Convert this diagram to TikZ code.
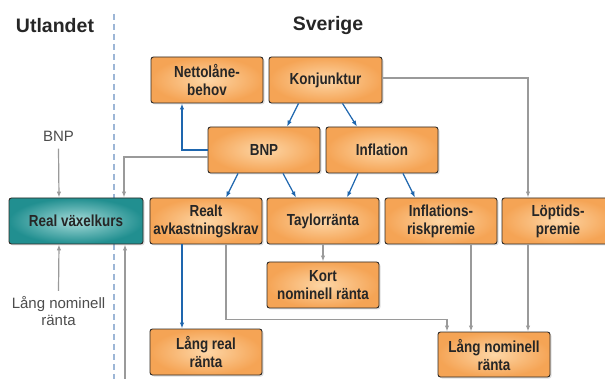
\documentclass[tikz,border=0pt]{standalone}
\usepackage{fontspec}
\setmainfont{Liberation Sans}
\newfontfamily\bx[FakeStretch=0.84]{Liberation Sans}
\usetikzlibrary{arrows.meta,shadows,calc}
\definecolor{orlight}{HTML}{FDD6A6}
\definecolor{ordark}{HTML}{F5A455}
\definecolor{tllight}{HTML}{A6DBD9}
\definecolor{tldark}{HTML}{218F90}
\definecolor{edge}{HTML}{2E2A26}
\definecolor{txt}{HTML}{262626}
\definecolor{bline}{HTML}{1E66AE}
\definecolor{gline}{HTML}{9A9A9A}
\definecolor{dashcol}{HTML}{9DB6D6}
\tikzset{
  box/.style={draw=edge, line width=0.9pt, rounded corners=2.5pt, minimum width=112pt, minimum height=46pt,
    inner color=orlight, outer color=ordark, align=center, text=txt,
    font=\bx\bfseries\fontsize{16}{18}\selectfont,
    drop shadow={shadow xshift=1.5pt, shadow yshift=-1.5pt, opacity=0.25}},
  tealbox/.style={box, inner color=tllight, outer color=tldark, minimum width=134pt},
  bl/.style={draw=bline, line width=1.2pt, -{Latex[length=6pt,width=4.5pt]}},
  gl/.style={draw=gline, line width=1.2pt, -{Latex[length=6pt,width=4.5pt]}},
  head/.style={font=\bfseries\fontsize{19.5}{22}\selectfont, text=txt},
  lab/.style={font=\fontsize{15}{17}\selectfont, text=black!70, align=center}
}
\begin{document}
\begin{tikzpicture}[x=1pt,y=-1pt]
\useasboundingbox (0,0) rectangle (605,379);
\begin{scope}
\clip (0,0) rectangle (605,379);
% dashed divider
\coordinate (dtop) at (114,14);
\coordinate (dbot) at (114,379);
\draw[draw=dashcol, line width=1.3pt, dash pattern=on 6pt off 4pt] (dtop) -- (dbot);

\node[head] (utl) at (55,26) {Utlandet};
\node[head] (sve) at (328,26) {Sverige};

\node[box] (nett) at (207,80) {Nettolåne-\\behov};
\node[box, minimum width=113pt] (konj) at (325.5,80) {Konjunktur};
\node[box] (bnp) at (264,150) {BNP};
\node[box] (infl) at (382,150) {Inflation};
\node[tealbox] (rvk) at (76,221) {Real växelkurs};
\node[box] (realt) at (206,221) {Realt\\avkastningskrav};
\node[box] (tay) at (323,221) {Taylorränta};
\node[box] (irp) at (441,221) {Inflations-\\riskpremie};
\node[box] (lopt) at (558,221) {Löptids-\\premie};
\node[box] (kort) at (323,285) {Kort\\nominell ränta};
\node[box] (lrr) at (206,352) {Lång real\\ränta};
\node[box, minimum height=45pt] (lnr) at (494,354.5) {Lång nominell\\ränta};

\node[lab] (bnplab) at (58.5,136) {BNP};
\node[lab] (lnlab) at (58.5,311) {Lång nominell\\ränta};
\coordinate (bot) at (125,379);

% connectors
\draw[bl] (bnp.west) -| ([xshift=-25pt]nett.south);
\draw[gl] ([yshift=-7pt]bnp.west) -| ([xshift=48pt]rvk.north);
\draw[bl] ([xshift=-27pt]konj.south) -- ([xshift=23pt]bnp.north);
\draw[bl] ([xshift=17pt]konj.south) -- ([xshift=-25pt]infl.north);
\draw[gl] ([yshift=2pt]konj.east) -| ([xshift=-30pt]lopt.north);
\draw[bl] ([xshift=-26pt]bnp.south) -- ([xshift=20pt]realt.north);
\draw[bl] ([xshift=19pt]bnp.south) -- ([xshift=-27pt]tay.north);
\draw[bl] ([xshift=-24pt]infl.south) -- ([xshift=24pt]tay.north);
\draw[bl] ([xshift=21pt]infl.south) -- ([xshift=-26pt]irp.north);
\draw[bl] ([xshift=-24pt]realt.south) -- ([xshift=-24pt]lrr.north);
\draw[gl] ([xshift=20pt]realt.south) -- ++(0,75) -| ([xshift=-47pt]lnr.north);
\draw[gl] (tay.south) -- (kort.north);
\draw[gl] ([xshift=30pt]irp.south) -- ([xshift=-23pt]lnr.north);
\draw[gl] ([xshift=-30pt]lopt.south) -- ([xshift=34pt]lnr.north);
\draw[gl] ([yshift=-4pt]bnplab.south) -- ([xshift=-17pt]rvk.north);
\draw[gl] ([yshift=2pt]lnlab.north) -- ([xshift=-17pt]rvk.south);
\draw[gl] (bot) -- ([xshift=49pt]rvk.south);
\end{scope}
\end{tikzpicture}
\end{document}
